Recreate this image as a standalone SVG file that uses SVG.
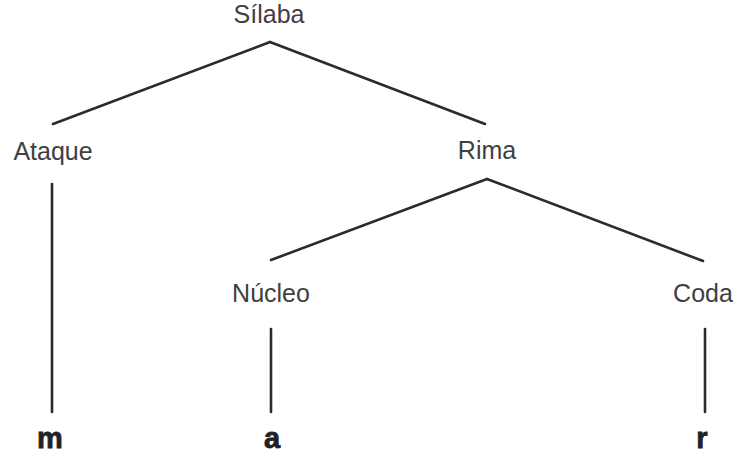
<svg xmlns="http://www.w3.org/2000/svg" width="740" height="472" viewBox="0 0 740 472">
  <style>
    .lbl { font-family: "Liberation Sans", Arial, sans-serif; font-size: 25px; fill: #404040; text-anchor: middle; }
    .seg { font-family: "Liberation Sans", Arial, sans-serif; font-size: 29px; font-weight: bold; fill: #222222; text-anchor: middle; stroke: #222222; stroke-width: 0.8; }
    .edge { stroke: #2b2b2b; stroke-width: 2.6; fill: none; stroke-linecap: round; }
  </style>
  <rect width="740" height="472" fill="#ffffff"/>
  <g id="connectors">
    <line class="edge" x1="270" y1="42" x2="53" y2="124"/>
    <line class="edge" x1="270" y1="42" x2="485" y2="124"/>
    <line class="edge" x1="52" y1="184" x2="52" y2="412"/>
    <line class="edge" x1="487" y1="179" x2="271" y2="260"/>
    <line class="edge" x1="487" y1="179" x2="703" y2="261"/>
    <line class="edge" x1="271" y1="329" x2="271" y2="412"/>
    <line class="edge" x1="705" y1="329" x2="705" y2="412"/>
  </g>
  <g id="silaba"><text class="lbl" x="269" y="23">Sílaba</text></g>
  <g id="ataque"><text class="lbl" x="53" y="160">Ataque</text></g>
  <g id="rima"><text class="lbl" x="487" y="159">Rima</text></g>
  <g id="nucleo"><text class="lbl" x="271" y="302">Núcleo</text></g>
  <g id="coda"><text class="lbl" x="703" y="302">Coda</text></g>
  <g id="m"><text class="seg" x="50" y="448">m</text></g>
  <g id="a"><text class="seg" x="272" y="448">a</text></g>
  <g id="r"><text class="seg" x="702" y="448">r</text></g>
</svg>
